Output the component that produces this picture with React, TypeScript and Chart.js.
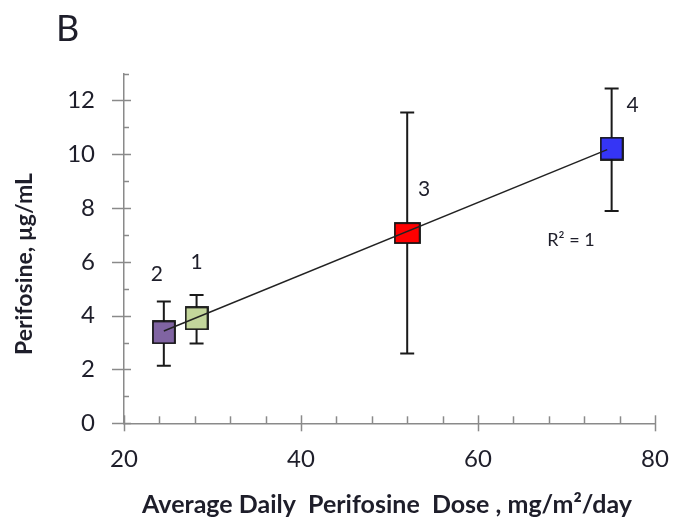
import React, { useEffect, useRef } from 'react';
import { Chart, registerables } from 'chart.js';
Chart.register(...registerables);

// ---- data ----
const pointLabels = ['1', '2', '3', '4'];
const doseX = [28.2, 24.5, 52.0, 75.1];
const meanY = [3.9, 3.38, 7.07, 10.21];
const errHigh = [4.77, 4.53, 11.55, 12.44];
const errLow = [2.97, 2.14, 2.59, 7.89];
const trendX = [24.5, 74.6];
const trendY = [3.43, 10.17];
const xMajorTicks = [20, 40, 60, 80];
const yMajorTicks = [0, 2, 4, 6, 8, 10, 12];
const r2Text = 'R² = 1';
const r2At = [70.5, 6.8];
const panelLabel = 'B';
const xTitle = 'Average Daily  Perifosine  Dose , mg/m²/day';
const yTitle = 'Perifosine, µg/mL';

// ---- style ----
const markerColors = ['#c3d69b', '#8064a2', '#ff0000', '#3535f5'];
const labelOffsets = [[0, -56], [-7, -58], [17, -44], [21, -43]];
const AXIS = '#8a8a8a';
const TEXT = '#1e1e2a';
const FONT = 'Lato, "Open Sans", sans-serif';

function boxMarker(w: number, h: number, fill: string) {
  const c = document.createElement('canvas');
  c.width = w + 2;
  c.height = h + 2;
  const g = c.getContext('2d')!;
  g.fillStyle = fill;
  g.fillRect(1, 1, w, h);
  g.strokeStyle = '#111';
  g.lineWidth = 1.8;
  g.strokeRect(1, 1, w, h);
  return c;
}

const overlay = {
  id: 'overlay',
  beforeDatasetsDraw(chart: any) {
    const { ctx, scales } = chart;
    const x = scales.x, y = scales.y;
    ctx.save();
    ctx.strokeStyle = AXIS;
    ctx.lineWidth = 1.5;
    x.ticks.forEach((t: any) => {
      const px = Math.round(x.getPixelForValue(t.value)) + 0.5;
      const major = xMajorTicks.includes(t.value);
      ctx.beginPath();
      ctx.moveTo(px, y.bottom - (major ? 8 : 7));
      ctx.lineTo(px, y.bottom + (major ? 8 : 0));
      ctx.stroke();
    });
    y.ticks.forEach((t: any) => {
      const py = Math.round(y.getPixelForValue(t.value)) + 0.5;
      const major = yMajorTicks.includes(t.value);
      ctx.beginPath();
      ctx.moveTo(x.left - (major ? 12 : 0), py);
      ctx.lineTo(x.left + (major ? 7 : 5), py);
      ctx.stroke();
    });
    // error bars
    ctx.strokeStyle = '#1a1a1a';
    ctx.lineWidth = 2;
    doseX.forEach((dx, i) => {
      const px = x.getPixelForValue(dx);
      const top = y.getPixelForValue(errHigh[i]);
      const bot = y.getPixelForValue(errLow[i]);
      ctx.beginPath();
      ctx.moveTo(px, top);
      ctx.lineTo(px, bot);
      ctx.moveTo(px - 7, top);
      ctx.lineTo(px + 7, top);
      ctx.moveTo(px - 7, bot);
      ctx.lineTo(px + 7, bot);
      ctx.stroke();
    });
    ctx.restore();
  },
  afterDraw(chart: any) {
    const { ctx, scales } = chart;
    const x = scales.x, y = scales.y;
    ctx.save();
    ctx.fillStyle = TEXT;
    ctx.textAlign = 'center';
    ctx.textBaseline = 'middle';
    ctx.font = `21px ${FONT}`;
    pointLabels.forEach((lab, i) => {
      const px = x.getPixelForValue(doseX[i]) + labelOffsets[i][0];
      const py = y.getPixelForValue(meanY[i]) + labelOffsets[i][1];
      ctx.fillText(lab, px, py);
    });
    ctx.font = `18px ${FONT}`;
    ctx.fillText(r2Text, x.getPixelForValue(r2At[0]), y.getPixelForValue(r2At[1]));
    // panel label
    ctx.textAlign = 'left';
    ctx.font = `36px ${FONT}`;
    ctx.fillText(panelLabel, 56, 29);
    // axis titles
    ctx.textAlign = 'center';
    ctx.font = `bold 25px ${FONT}`;
    ctx.fillText(xTitle, 387, 505);
    ctx.font = `bold 23px ${FONT}`;
    ctx.translate(25, 264);
    ctx.rotate(-Math.PI / 2);
    ctx.fillText(yTitle, 0, 0);
    ctx.restore();
  },
};

export default function App() {
  const ref = useRef<HTMLCanvasElement>(null);
  useEffect(() => {
    document.body.style.margin = '0';
    const canvas = ref.current!;
    const markerStyles = markerColors.map((c, i) =>
      i === 2 ? boxMarker(25, 20, c) : boxMarker(22, 22, c)
    );
    const chart = new Chart(canvas, {
      type: 'scatter',
      data: {
        datasets: [
          {
            type: 'line',
            data: trendX.map((v, i) => ({ x: v, y: trendY[i] })),
            borderColor: '#222',
            borderWidth: 1.5,
            pointRadius: 0,
            fill: false,
            order: 0,
          } as any,
          {
            type: 'scatter',
            data: doseX.map((v, i) => ({ x: v, y: meanY[i] })),
            pointStyle: markerStyles,
            pointRadius: 12,
            backgroundColor: markerColors,
            borderColor: '#111',
            borderWidth: 1.8,
            order: 1,
          } as any,
        ],
      },
      options: {
        responsive: false,
        animation: false,
        devicePixelRatio: 1,
        events: [],
        layout: { padding: { top: 73.5, right: 22, left: 0, bottom: 0 } },
        plugins: { legend: { display: false }, tooltip: { enabled: false } },
        scales: {
          x: {
            type: 'linear',
            min: 20,
            max: 80,
            ticks: {
              stepSize: 4,
              autoSkip: false,
              maxRotation: 0,
              padding: 22,
              color: TEXT,
              font: { family: FONT, size: 24 },
              callback: (v: any) => (xMajorTicks.includes(Number(v)) ? String(v) : ''),
            },
            grid: { display: false, drawTicks: false },
            border: { display: true, color: AXIS, width: 1.5 },
            afterFit: (s: any) => {
              s.height = 105.7;
              s.paddingLeft = 0;
              s.paddingRight = 0;
            },
          },
          y: {
            type: 'linear',
            min: 0,
            max: 13,
            ticks: {
              stepSize: 1,
              autoSkip: false,
              padding: 29,
              color: TEXT,
              font: { family: FONT, size: 24 },
              callback: (v: any) => (yMajorTicks.includes(Number(v)) ? String(v) : ''),
            },
            grid: { display: false, drawTicks: false },
            border: { display: true, color: AXIS, width: 1.5 },
            afterFit: (s: any) => {
              s.width = 124;
              s.paddingTop = 0;
              s.paddingBottom = 0;
            },
          },
        },
      } as any,
      plugins: [overlay],
    });
    return () => chart.destroy();
  }, []);
  return <canvas ref={ref} width={677} height={529} style={{ display: 'block' }} />;
}
